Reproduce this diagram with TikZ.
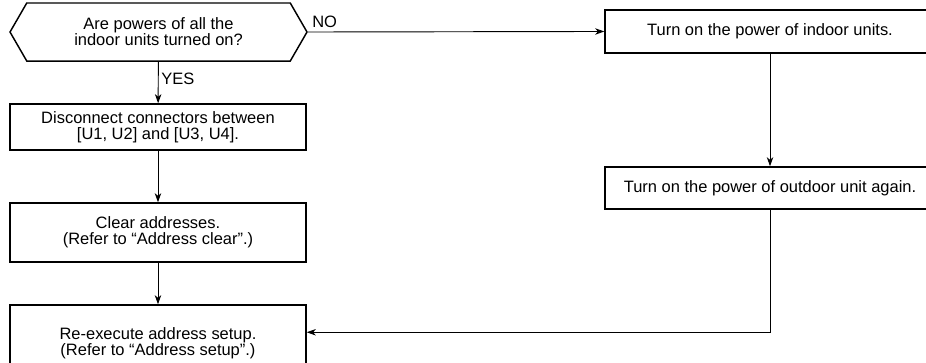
\documentclass[tikz,border=0pt]{standalone}
\usepackage{fontspec}
\setmainfont{Liberation Sans}
\usepackage{tikz}
\usetikzlibrary{arrows.meta,shapes.symbols}

\begin{document}
\begin{tikzpicture}[every node/.style={font=\fontsize{12.4pt}{12pt}\selectfont, align=center},
    proc/.style={draw, line width=1.1pt, inner sep=0pt},
    ask/.style={draw, line width=1.1pt, inner sep=0pt, signal, signal to=east and west, signal pointer angle=120},
    flow/.style={line width=0.7pt, -{Stealth[length=2.4mm, width=1.7mm, inset=0.7mm]}}]
        \clip (0,0) rectangle (24.5,-9.578);
        \useasboundingbox (0,0) rectangle (24.5,-9.578);
        \node[ask, minimum width=7.858cm, minimum height=1.535cm] (ask) at (4.194,-0.847) {Are powers of all the\\indoor units turned on?};
        \node[proc, minimum width=7.832cm, minimum height=1.217cm] (disc) at (4.18,-3.36) {Disconnect connectors between\\{}[U1, U2] and [U3, U4].};
        \node[proc, minimum width=7.832cm, minimum height=1.561cm] (clear) at (4.18,-6.152) {Clear addresses.\\(Refer to “Address clear”.)};
        \node[proc, minimum width=7.832cm, minimum height=2.011cm] (reset) at (4.18,-9.075) {Re-execute address setup.\\(Refer to “Address setup”.)};
        \node[proc, minimum width=8.731cm, minimum height=1.138cm] (indoor) at (20.373,-0.833) {Turn on the power of indoor units.};
        \node[proc, minimum width=8.731cm, minimum height=1.111cm] (outdoor) at (20.373,-4.974) {Turn on the power of outdoor unit again.};
        \draw[flow] (ask) -- node[pos=0.4, right, inner sep=2pt] (yes) {YES} (disc);
        \draw[flow] (disc) -- (clear);
        \draw[flow] (clear) -- (reset);
        \draw[flow] (ask.east) -- node[pos=0, above right, inner sep=3pt] (no) {NO} (indoor.west);
        \draw[flow] (indoor) -- (outdoor);
        \draw[flow] (outdoor.south) |- ([yshift=-0.741cm]reset.north east);
    \end{tikzpicture}
\end{document}
